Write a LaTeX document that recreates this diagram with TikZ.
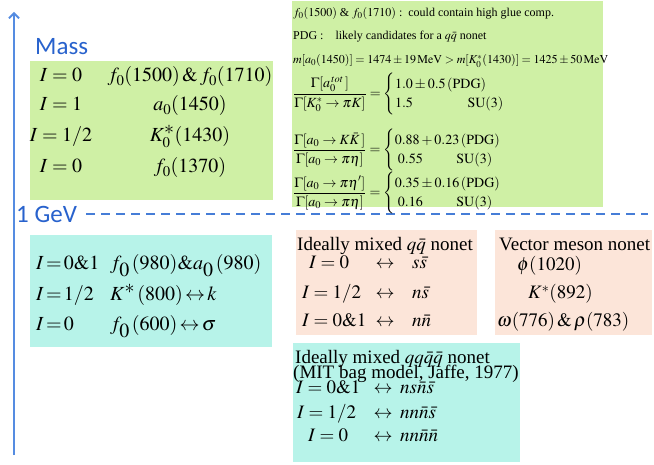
\documentclass[tikz,border=0pt]{standalone}
\usepackage{amsmath}
\usepackage{mathptmx}
\usepackage{fontspec}
\setmainfont{Liberation Serif}
\newfontfamily\carlito{Carlito}
\usetikzlibrary{arrows.meta}
\definecolor{gbox}{RGB}{207,240,165}
\definecolor{cbox}{RGB}{183,243,233}
\definecolor{sbox}{RGB}{252,229,217}
\definecolor{massblue}{RGB}{40,98,205}
\definecolor{axisblue}{RGB}{85,140,225}
\definecolor{dashblue}{RGB}{70,125,215}
\newcommand\lsub[1]{_{\textstyle #1}}
\tikzset{
  bigt/.style={font=\fontsize{20}{24}\selectfont, inner sep=0pt},
  midt/.style={font=\fontsize{19}{22}\selectfont, inner sep=0pt},
  cyt/.style={font=\fontsize{20}{24}\selectfont, inner sep=0pt},
  smallt/.style={font=\fontsize{12}{14}\selectfont, inner sep=0pt},
  fract/.style={font=\fontsize{14}{16}\selectfont, inner sep=0pt},
  axlab/.style={font=\carlito\fontsize{25}{28}\selectfont, text=massblue, inner sep=0pt},
  axisline/.style={draw=axisblue, line width=2pt, -{Straight Barb[length=5pt,width=10pt,line width=1.8pt]}},
  gevline/.style={draw=dashblue, line width=2.2pt, dash pattern=on 9pt off 6pt}
}
\begin{document}
\begin{tikzpicture}[x=1pt,y=-1pt]
\useasboundingbox[fill=white] (0,0) rectangle (654,465);
% panels
\fill[gbox] (30,61) rectangle (273,200);
\fill[gbox] (292,1) rectangle (603,207);
\fill[cbox] (30,235) rectangle (272,347);
\fill[sbox] (296,230) rectangle (477,335);
\fill[sbox] (495,230) rectangle (652,335);
\fill[cbox] (293,343) rectangle (520,462);
% axis
\coordinate (axbot) at (14,455);
\coordinate (axtop) at (14,12);
\draw[axisline] (axbot) -- (axtop);
\node[axlab, anchor=west] (mass) at (35,47) {Mass};
\node[axlab, anchor=west] (gev) at (16,214) {1 GeV};
\coordinate (dstart) at (86,214);
\coordinate (dend) at (648,214);
\draw[gevline] (dstart) -- (dend);
% green box 1
\node[bigt, anchor=base] (i1) at (61,82) {$I=0$};
\node[bigt, anchor=base] (m1) at (190,82) {$f_0(1500)\,\&\,f_0(1710)$};
\node[bigt, anchor=base] (i2) at (61,111) {$I=1$};
\node[bigt, anchor=base] (m2) at (190,111) {$a_0(1450)$};
\node[bigt, anchor=base] (i3) at (61,142) {$I=1/2$};
\node[bigt, anchor=base] (m3) at (190,142) {$K_0^{\textstyle *}(1430)$};
\node[bigt, anchor=base] (i4) at (61,173) {$I=0$};
\node[bigt, anchor=base] (m4) at (190,173) {$f_0(1370)$};
% green box 2
\node[smallt, anchor=base west] (t1) at (293,17) {$f_0(1500)$ \& $f_0(1710)$ :\, could contain high glue comp.};
\node[smallt, anchor=base west] (t2) at (293,40) {PDG :\quad likely candidates for a $q\bar q$ nonet};
\node[smallt, anchor=base west] (t3) at (293,64) {$m[a_0(1450)]=1474\pm19\,\mathrm{MeV}>m[K_0^*(1430)]=1425\pm50\,\mathrm{MeV}$};
\node[fract, anchor=west] (r1) at (293,94) {$\dfrac{\Gamma[a_0^{\,tot}\,]}{\Gamma[K_0^*\to\pi K]}=\begin{cases}1.0\pm0.5\,(\mathrm{PDG})\\ 1.5\hspace{3.9em}\mathrm{SU(3)}\end{cases}$};
\node[fract, anchor=west] (r2) at (293,150) {$\dfrac{\Gamma[a_0\to K\bar K\,]}{\Gamma[a_0\to\pi\eta]}=\begin{cases}0.88+0.23\,(\mathrm{PDG})\\ \;0.55\hspace{2.4em}\mathrm{SU(3)}\end{cases}$};
\node[fract, anchor=west] (r3) at (293,193) {$\dfrac{\Gamma[a_0\to\pi\eta']}{\Gamma[a_0\to\pi\eta]}=\begin{cases}0.35\pm0.16\,(\mathrm{PDG})\\ \;0.16\hspace{2.4em}\mathrm{SU(3)}\end{cases}$};
% cyan box 1
\node[cyt, anchor=base west] (c1l) at (36,270) {$I\!=\!0\&1$};
\node[cyt, anchor=base west] (c1r) at (110,270) {$f\lsub{0}\,(980)\&a\lsub{0}\,(980)$};
\node[cyt, anchor=base west] (c2l) at (36,301) {$I\!=\!1/2$};
\node[cyt, anchor=base west] (c2r) at (110,301) {$K^{\textstyle *}\,(800)\!\leftrightarrow\! k$};
\node[cyt, anchor=base west] (c3l) at (36,331) {$I\!=\!0$};
\node[cyt, anchor=base west] (c3r) at (110,331) {$f\lsub{0}\,(600)\!\leftrightarrow\!\sigma$};
% salmon box 1
\node[midt, anchor=base west] (s0) at (297,251) {Ideally mixed $q\bar q$ nonet};
\node[midt, anchor=base west] (s1l) at (309,269) {$I=0$};
\node[midt, anchor=base] (s1a) at (385,269) {$\leftrightarrow$};
\node[midt, anchor=base west] (s1r) at (412,269) {$s\bar s$};
\node[midt, anchor=base west] (s2l) at (302,299) {$I=1/2$};
\node[midt, anchor=base] (s2a) at (385,299) {$\leftrightarrow$};
\node[midt, anchor=base west] (s2r) at (412,299) {$n\bar s$};
\node[midt, anchor=base west] (s3l) at (302,327) {$I=0\&1$};
\node[midt, anchor=base] (s3a) at (385,327) {$\leftrightarrow$};
\node[midt, anchor=base west] (s3r) at (412,327) {$n\bar n$};
% salmon box 2
\node[midt, anchor=base west] (v0) at (499,251) {Vector meson nonet};
\node[midt, anchor=base west] (v1) at (517,271) {$\phi(1020)$};
\node[midt, anchor=base west] (v2) at (528,299) {$K^*(892)$};
\node[midt, anchor=base west] (v3) at (497,327) {$\omega(776)\,\&\,\rho(783)$};
% cyan box 2
\node[midt, anchor=base west] (q0) at (295,363) {Ideally mixed $qq\bar q\bar q$ nonet};
\node[midt, anchor=base west] (q00) at (293,378) {(MIT bag model, Jaffe, 1977)};
\node[midt, anchor=base west] (q1l) at (296,394) {$I=0\&1$};
\node[midt, anchor=base] (q1a) at (383,394) {$\leftrightarrow$};
\node[midt, anchor=base west] (q1r) at (400,394) {$ns\bar n\bar s$};
\node[midt, anchor=base west] (q2l) at (297,418) {$I=1/2$};
\node[midt, anchor=base] (q2a) at (383,418) {$\leftrightarrow$};
\node[midt, anchor=base west] (q2r) at (400,418) {$nn\bar n\bar s$};
\node[midt, anchor=base west] (q3l) at (308,441) {$I=0$};
\node[midt, anchor=base] (q3a) at (383,441) {$\leftrightarrow$};
\node[midt, anchor=base west] (q3r) at (400,441) {$nn\bar n\bar n$};
\end{tikzpicture}
\end{document}
